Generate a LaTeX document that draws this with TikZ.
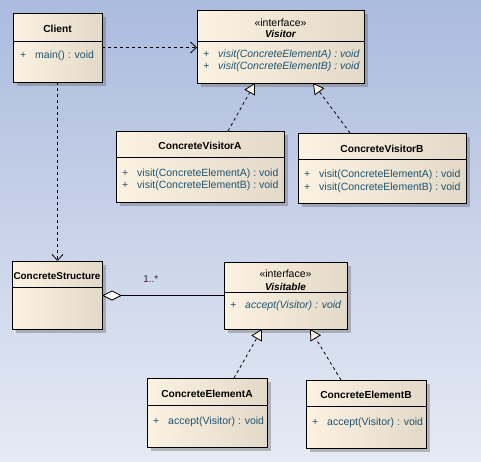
\documentclass[tikz,border=0pt]{standalone}
\usepackage{fontspec}
\setmainfont{Liberation Sans}
\usetikzlibrary{arrows.meta,shadows,calc}
\definecolor{bgtop}{HTML}{ABBBDE}
\definecolor{bgbottom}{HTML}{E6EAF4}
\definecolor{boxlight}{HTML}{FCF2E2}
\definecolor{boxdark}{HTML}{E3D9C8}
\definecolor{optext}{HTML}{1E5470}
\definecolor{multtext}{HTML}{3C1E46}
\tikzstyle{classbox} = [draw=black, line width=1pt, rectangle, anchor=north west,
    inner sep=0pt, outer sep=0pt, left color=boxlight, middle color=boxlight, right color=boxdark,
    drop shadow={shadow xshift=4pt, shadow yshift=-4pt, fill=black!60, opacity=0.4}]
\tikzstyle{divider} = [draw=black, line width=1pt]
\tikzstyle{classname} = [font=\fontsize{10.2}{12}\selectfont\bfseries, inner sep=0pt, anchor=base]
\tikzstyle{stereo} = [font=\fontsize{10.5}{12}\selectfont, inner sep=0pt, anchor=base]
\tikzstyle{ifacename} = [font=\fontsize{10}{12}\selectfont\bfseries\itshape, inner sep=0pt, anchor=base]
\tikzstyle{ops} = [font=\fontsize{10.5}{12}\selectfont, text=optext, anchor=base west, inner sep=0pt]
\tikzstyle{absops} = [ops, font=\fontsize{10.5}{12}\selectfont\itshape]
\tikzstyle{depend} = [dashed, line width=0.8pt, -{Straight Barb[length=6pt, width=11pt]}]
\tikzstyle{realize} = [dashed, line width=0.8pt, -{Triangle[open, fill=boxlight, length=11pt, width=12pt]}]
\tikzstyle{aggr} = [line width=0.8pt, -{Diamond[open, fill=white, length=20pt, width=10pt]}]
\newcommand{\op}[1]{\makebox[15pt][l]{+}#1}

\begin{document}
\begin{tikzpicture}[x=1pt, y=-1pt]
  \fill[top color=bgtop, bottom color=bgbottom] (0,0) rectangle (481,461);
  \useasboundingbox (0,0) rectangle (481,461);

  % classes
  \node[classbox, minimum width=89pt, minimum height=69pt] (client) at (13,13) {};
  \draw[divider] (client.west |- 0,41) -- (client.east |- 0,41);
  \node[classname] at (57.5,32) {Client};
  \node[ops] at (20,58) {\op{main() : void}};

  \node[classbox, minimum width=167pt, minimum height=73pt] (visitor) at (197,10) {};
  \draw[divider] (visitor.west |- 0,41) -- (visitor.east |- 0,41);
  \node[stereo] at (280.5,26) {«interface»};
  \node[ifacename] at (280.5,37.5) {Visitor};
  \node[absops] at (203,57) {\op{visit(ConcreteElementA) : void}};
  \node[absops] at (203,69) {\op{visit(ConcreteElementB) : void}};

  \node[classbox, minimum width=168pt, minimum height=71pt] (cva) at (116,131) {};
  \draw[divider] (cva.west |- 0,157) -- (cva.east |- 0,157);
  \node[classname] at (200,149.5) {ConcreteVisitorA};
  \node[ops] at (122,176) {\op{visit(ConcreteElementA) : void}};
  \node[ops] at (122,188) {\op{visit(ConcreteElementB) : void}};

  \node[classbox, minimum width=168pt, minimum height=70pt] (cvb) at (298,133) {};
  \draw[divider] (cvb.west |- 0,159) -- (cvb.east |- 0,159);
  \node[classname] at (382,152) {ConcreteVisitorB};
  \node[ops] at (304,177) {\op{visit(ConcreteElementA) : void}};
  \node[ops] at (304,190) {\op{visit(ConcreteElementB) : void}};

  \node[classbox, minimum width=90pt, minimum height=68pt] (cs) at (12,261) {};
  \draw[divider] (cs.west |- 0,287) -- (cs.east |- 0,287);
  \node[classname, font=\fontsize{9.9}{12}\selectfont\bfseries] at (57,279) {ConcreteStructure};

  \node[classbox, minimum width=123pt, minimum height=67pt] (visitable) at (224,262) {};
  \draw[divider] (visitable.west |- 0,292) -- (visitable.east |- 0,292);
  \node[stereo] at (285.5,277) {«interface»};
  \node[ifacename] at (285.5,290) {Visitable};
  \node[absops] at (230,308) {\op{accept(Visitor) : void}};

  \node[classbox, minimum width=120pt, minimum height=69pt] (cea) at (147,378) {};
  \draw[divider] (cea.west |- 0,405) -- (cea.east |- 0,405);
  \node[classname] at (207,397.5) {ConcreteElementA};
  \node[ops] at (153,424) {\op{accept(Visitor) : void}};

  \node[classbox, minimum width=120pt, minimum height=68pt] (ceb) at (306,380) {};
  \draw[divider] (ceb.west |- 0,406) -- (ceb.east |- 0,406);
  \node[classname] at (366,398.5) {ConcreteElementB};
  \node[ops] at (312,425) {\op{accept(Visitor) : void}};

  % relations
  \draw[depend] (client.east) -- (client.east -| visitor.west);
  \draw[depend] (client.south) -- (client.south |- cs.north);
  \draw[realize] ($(cva.north)+(28,0)$) -- ($(visitor.south)+(-25.5,0)$);
  \draw[realize] ($(cvb.north)+(-32,0)$) -- ($(visitor.south)+(32.5,0)$);
  \draw[realize] ($(cea.north)+(27,0)$) -- ($(visitable.south)+(-23.5,0)$);
  \draw[realize] ($(ceb.north)+(-25,0)$) -- ($(visitable.south)+(24.5,0)$);
  \draw[aggr] (visitable.west) -- (visitable.west -| cs.east)
    node[pos=0.6, anchor=base, yshift=13pt, text=multtext, font=\fontsize{10}{12}\selectfont] {1..*};
\end{tikzpicture}
\end{document}
